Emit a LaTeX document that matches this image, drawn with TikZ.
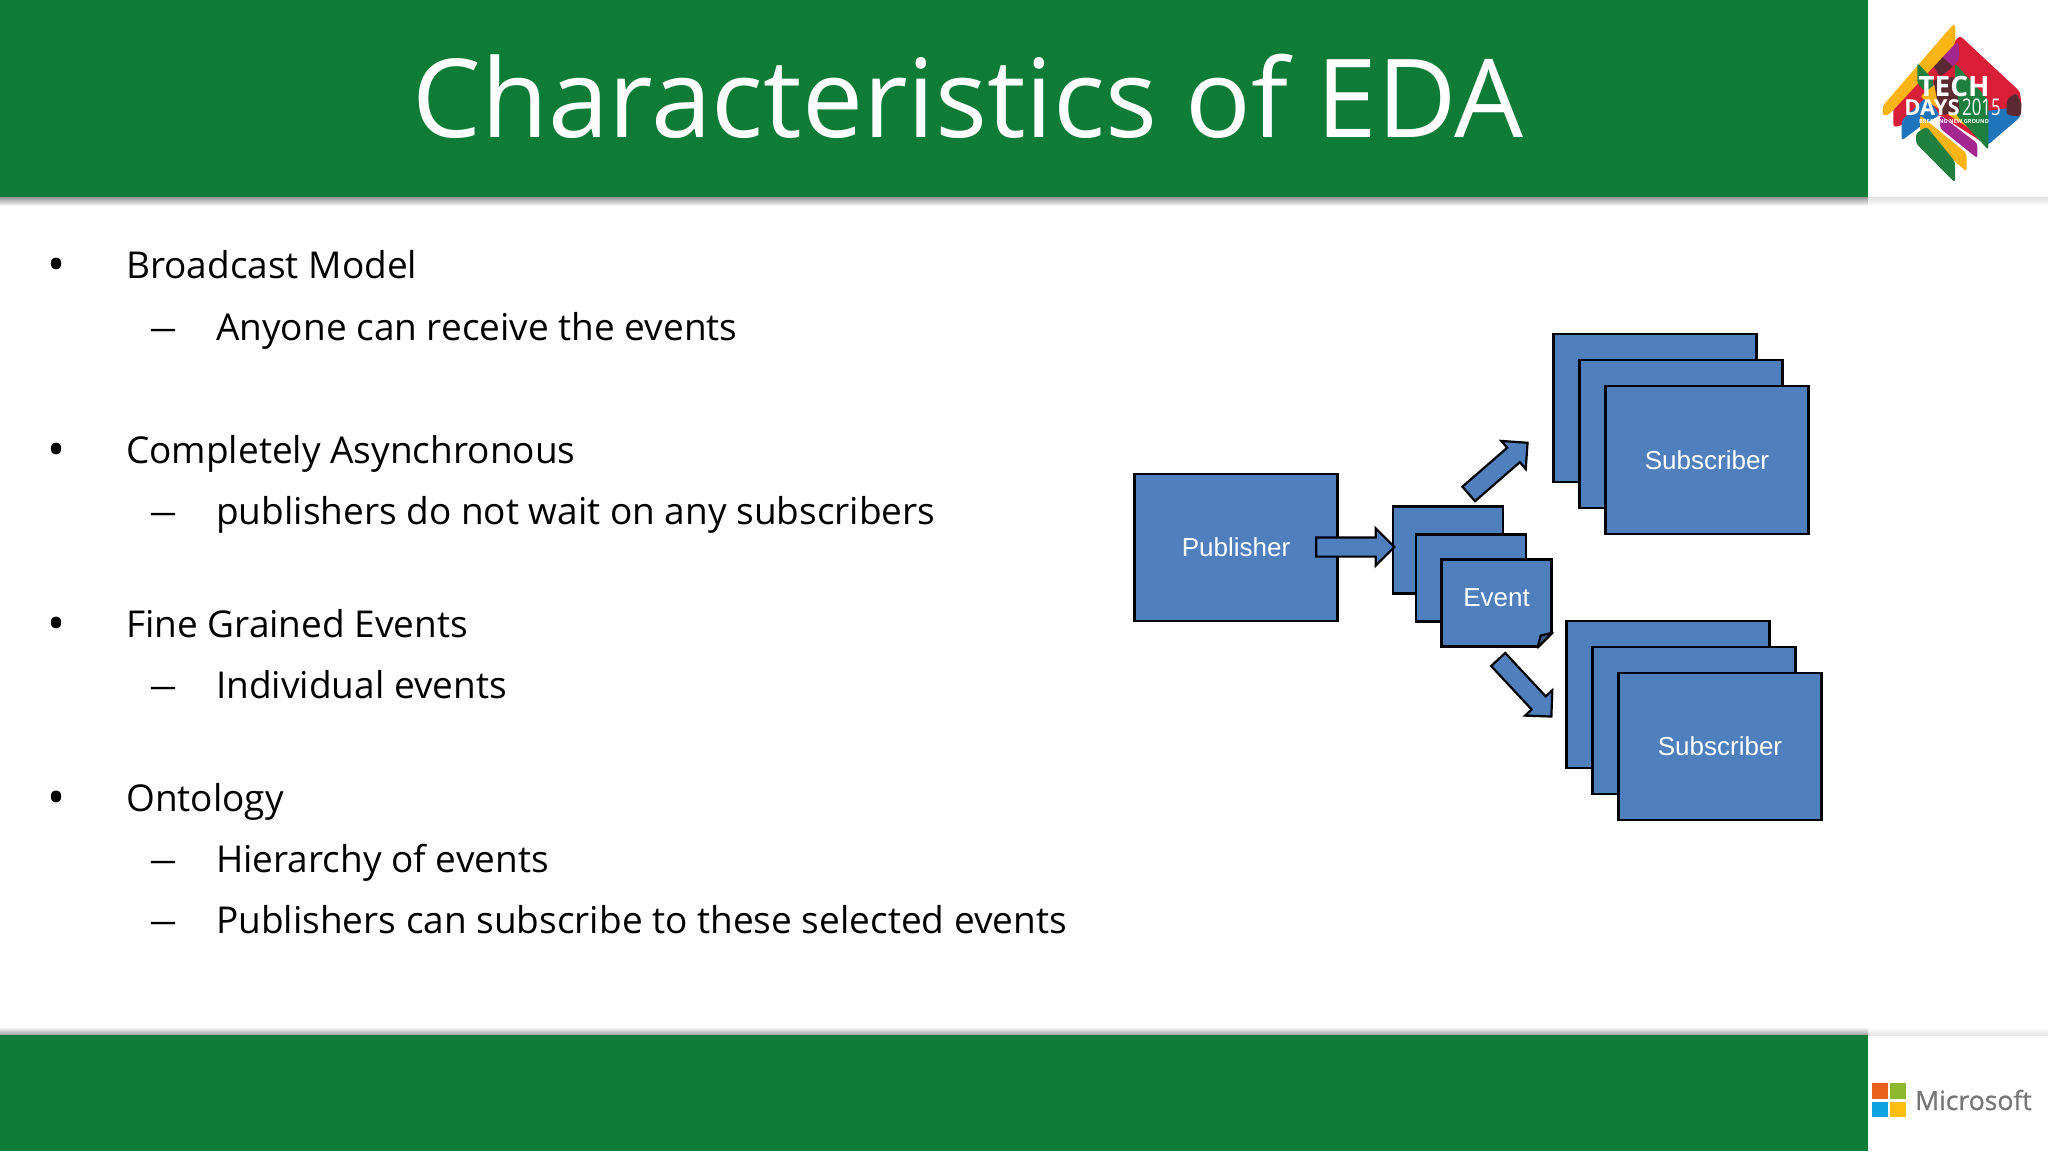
\documentclass[tikz,border=0pt]{standalone}
\usepackage{fontspec}
\setmainfont{Open Sans}
\newfontfamily\arialfont{Liberation Sans}
\newfontfamily\msfont[FakeBold=0.8]{Open Sans}
\newfontfamily\dashfont[FakeBold=1.5]{Open Sans}
\usetikzlibrary{positioning, shapes.arrows}
\definecolor{slidegreen}{HTML}{0E7C36}
\definecolor{boxblue}{HTML}{4F7FBD}
\definecolor{logored}{HTML}{D81F37}
\definecolor{logoyellow}{HTML}{FBB416}
\definecolor{logogreen}{HTML}{1E7F3F}
\definecolor{logoblue}{HTML}{1F75BC}
\definecolor{logopurple}{HTML}{A3278F}
\definecolor{logodark}{HTML}{5A2A30}
\definecolor{msgray}{HTML}{767676}
\definecolor{msorange}{HTML}{E8601A}
\definecolor{msgreen}{HTML}{8DB92E}
\definecolor{msblue}{HTML}{0FA1E0}
\definecolor{msyellow}{HTML}{FFBE10}
\begin{document}
\begin{tikzpicture}[x=1pt, y=-1pt,
        box/.style = {rectangle, draw=black, line width=2.2pt, fill=boxblue, inner sep=0pt,
                     text=white, font=\arialfont\fontsize{26}{30}\selectfont},
     bigbox/.style = {box, minimum width=203pt, minimum height=147.5pt},
   eventbox/.style = {box, minimum width=110pt, minimum height=87pt},
  blockarrow/.style = {single arrow, draw=black, line width=2.2pt, fill=boxblue,
                     inner xsep=0pt, inner ysep=8.5pt,
                     minimum height=78pt, minimum width=35pt,
                     single arrow head extend=9pt, single arrow head indent=0pt},
     bullet/.style = {anchor=base, inner sep=0pt, font=\fontsize{48}{54}\selectfont},
   dashmark/.style = {anchor=base, inner sep=0pt, font=\dashfont\fontsize{26}{30}\selectfont},
       body/.style = {anchor=base west, inner sep=0pt, font=\fontsize{37}{44}\selectfont},
       leaf/.style = {rounded corners=3pt}
                        ]
\useasboundingbox (0,0) rectangle (2048,1153);
\fill[white] (0,0) rectangle (2048,1153);
% bars
\shade[top color=black!42, bottom color=white] (0,197) rectangle (1868,206);
\shade[top color=black!12, bottom color=white] (1868,197) rectangle (2048,206);
\shade[top color=white, bottom color=black!38] (0,1027) rectangle (1868,1035);
\shade[top color=white, bottom color=black!10] (1868,1027) rectangle (2048,1035);
\fill[slidegreen] (0,0) rectangle (1868,197);
\fill[slidegreen] (0,1035) rectangle (1868,1151);
\node (title) [anchor=base, text=white, inner sep=0pt, font=\fontsize{109}{120}\selectfont] at (968,138) {Characteristics of EDA};
% left column
\node (b1) [bullet] at (57,281) {•};
\node (t1) [body] at (126,278) {Broadcast Model};
\node (d1) [dashmark] at (163,337) {—};
\node (s1) [body] at (216,340) {Anyone can receive the events};
\node (b2) [bullet] at (57,466) {•};
\node (t2) [body] at (126,463) {Completely Asynchronous};
\node (d2) [dashmark] at (163,521) {—};
\node (s2) [body] at (216,524) {publishers do not wait on any subscribers};
\node (b3) [bullet] at (57,640) {•};
\node (t3) [body] at (126,637) {Fine Grained Events};
\node (d3) [dashmark] at (163,695) {—};
\node (s3) [body] at (216,698) {Individual events};
\node (b4) [bullet] at (57,814) {•};
\node (t4) [body] at (126,811) {Ontology};
\node (d4) [dashmark] at (163,869) {—};
\node (s4) [body] at (216,872) {Hierarchy of events};
\node (d5) [dashmark] at (163,930) {—};
\node (s5) [body] at (216,933) {Publishers can subscribe to these selected events};
% diagram
\node (publisher) [bigbox] at (1236,547.5) {Publisher};
\node (eventa) [eventbox] at (1448,550) {};
\node (eventb) [eventbox] at (1471,578) {};
\node (eventc) [eventbox] at (1496.5,603) {\raisebox{10pt}{Event}};
\fill[white] (eventc.south east) ++(-15,1.2) -- ++(16.2,0) -- ++(0,-17) -- cycle;
\draw[line width=2.2pt, fill=boxblue!70!black, line join=round] (eventc.south east) ++(0,-15) -- ++(-12,3) -- ++(-3,12) -- cycle;
\node (suba) [bigbox] at (1655,408) {};
\node (subb) [bigbox] at (1681,434) {};
\node (subc) [bigbox] at (1707,460) {Subscriber};
\node (subd) [bigbox] at (1668,694.5) {};
\node (sube) [bigbox] at (1694,720.5) {};
\node (subf) [bigbox] at (1720,746.5) {Subscriber};
\node (pubarrow) [blockarrow] at (1350.5,547) {};
\node (uparrow) [blockarrow, rotate=41] at (1494.5,471.5) {};
\node (downarrow) [blockarrow, rotate=-47] at (1521.5,684.5) {};
% tech days logo
\begin{scope}[shift={(1840,0)}, x=0.3333pt, y=-0.3333pt]
\fill[logored, leaf] (160,322) -- (290,180) -- (360,107) -- (540,275) -- (545,320) -- (442,436) -- (300,345) -- (160,382) -- cycle;
\fill[logoblue, leaf] (185,362) -- (260,290) -- (300,345) -- (240,380) -- (185,422) -- cycle;
\fill[logoblue, leaf] (380,340) -- (545,320) -- (540,352) -- (442,436) -- cycle;
\fill[logodark, leaf] (500,300) -- (528,278) -- (545,310) -- (542,350) -- (500,345) -- cycle;
\fill[logopurple, leaf] (280,190) -- (355,125) -- (358,180) -- (310,225) -- cycle;
\fill[logodark, leaf] (275,190) -- (300,165) -- (340,200) -- (300,230) -- cycle;
\fill[logoyellow, leaf] (128,347) -- (128,318) -- (338,75) -- (346,75) -- (346,130) -- (145,346) -- cycle;
\fill[logogreen, leaf] (232,188) -- (280,240) -- (280,300) -- (232,250) -- cycle;
\fill[logoyellow, leaf] (240,290) -- (300,240) -- (420,370) -- (412,400) -- cycle;
\fill[logogreen, leaf] (345,190) -- (445,300) -- (445,450) -- (345,340) -- cycle;
\fill[logodark, leaf] (280,240) -- (345,230) -- (360,340) -- (300,345) -- cycle;
\fill[logopurple, leaf] (300,345) -- (412,430) -- (412,475) -- (300,385) -- cycle;
\fill[logoyellow, leaf] (240,345) -- (380,460) -- (380,515) -- (240,395) -- cycle;
\fill[logogreen, leaf] (228,400) -- (260,380) -- (345,485) -- (345,548) -- (228,430) -- cycle;
\end{scope}
\node (tech) [anchor=base, text=white, inner sep=0pt, font=\bfseries\fontsize{28}{30}\selectfont] at (1954,97) {TECH};
\node (days) [anchor=base east, text=white, inner sep=0pt, font=\bfseries\fontsize{22}{26}\selectfont] at (1960,116) {DAYS};
\node (year) [anchor=base west, text=white, inner sep=0pt, font=\fontsize{23}{26}\selectfont] at (1962,116) {\scalebox{0.73}[1]{2015}};
\node (tagline) [anchor=base, text=white, inner sep=0pt, font=\bfseries\fontsize{5.6}{7}\selectfont] at (1954,124) {BREAKING NEW GROUND};
% microsoft logo
\fill[msorange] (1872,1083) rectangle (1888,1099);
\fill[msgreen] (1890,1083) rectangle (1906,1099);
\fill[msblue] (1872,1102) rectangle (1888,1117);
\fill[msyellow] (1890,1102) rectangle (1906,1117);
\node (mslogo) [anchor=base west, text=msgray, inner sep=0pt, font=\msfont\fontsize{26.5}{32}\selectfont] at (1915,1110) {Microsoft};
\end{tikzpicture}
\end{document}
